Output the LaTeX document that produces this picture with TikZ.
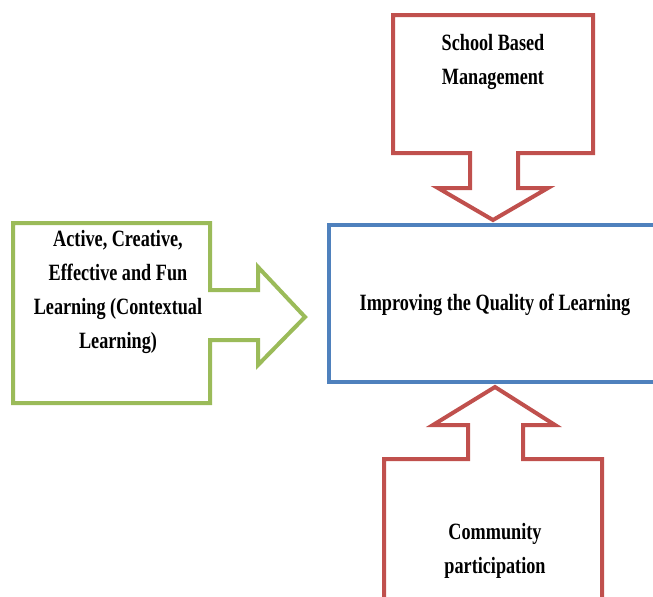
\documentclass[tikz,border=0pt]{standalone}
\usepackage{fontspec}
\setmainfont{Liberation Serif}[FakeStretch=0.78]
\definecolor{offred}{HTML}{C0504D}
\definecolor{offblue}{HTML}{4F81BD}
\definecolor{offgreen}{HTML}{9BBB59}
\begin{document}
\begin{tikzpicture}[x=0.75pt,y=-0.75pt,
  redshape/.style={draw=offred,line width=3pt,fill=white,line join=miter},
  greenshape/.style={draw=offgreen,line width=3pt,fill=white,line join=miter},
  blueshape/.style={draw=offblue,line width=3.5pt,fill=white},
  lbl/.style={font=\fontsize{17.5}{25.5}\selectfont\bfseries,align=center,inner sep=0pt}]
\useasboundingbox (0,0) rectangle (653,596);
\clip (0,0) rectangle (653,596);
% central box
\draw[blueshape] (329,225) rectangle (680,382);
\node[lbl] (quality) at (495,305) {Improving the Quality of Learning};
% top callout
\draw[redshape] (393,15) -- (593,15) -- (593,153) -- (518,153) -- (518,188) -- (548,188)
  -- (493,220) -- (438,188) -- (470,188) -- (470,153) -- (393,153) -- cycle;
\node[lbl] (sbm) at (493,62) {School Based\\Management};
% left callout
\draw[greenshape] (13,223) -- (210,223) -- (210,290) -- (258,290) -- (258,267)
  -- (305,317) -- (258,365) -- (258,340) -- (210,340) -- (210,403) -- (13,403) -- cycle;
\node[lbl] (active) at (118,292) {Active, Creative,\\Effective and Fun\\Learning (Contextual\\Learning)};
% bottom callout
\draw[redshape] (384,630) -- (384,459) -- (468,459) -- (468,425) -- (433,425) -- (495,387)
  -- (555,425) -- (523,425) -- (523,459) -- (602,459) -- (602,630);
\node[lbl] (community) at (495,551) {Community\\participation};
\end{tikzpicture}
\end{document}
